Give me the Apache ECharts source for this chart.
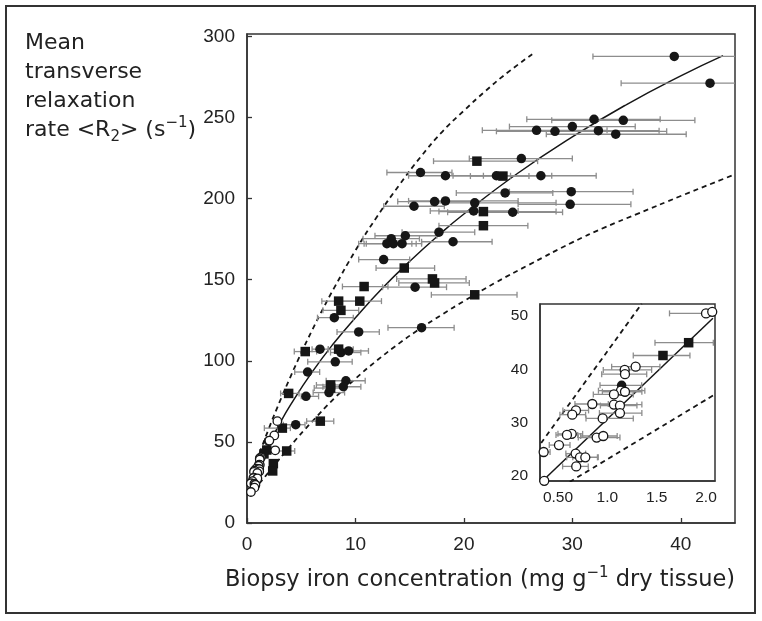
<!DOCTYPE html>
<html><head><meta charset="utf-8">
<script src="https://cdn.jsdelivr.net/npm/echarts@6/dist/echarts.min.js"></script>
<style>html,body{margin:0;padding:0;background:#fff}#c{width:762px;height:621px}</style>
</head><body><div id="c"></div>
<script>
// ---------- tick labels ----------
const xTicks = [0, 10, 20, 30, 40];
const yTicks = [0, 50, 100, 150, 200, 250, 300];
const insetXTicks = [0.5, 1.0, 1.5, 2.0];
const insetXLabels = ['0.50', '1.0', '1.5', '2.0'];
const insetYTicks = [20, 30, 40, 50];

// ---------- data: [iron, R2, ironLow, ironHigh] ----------
const mainFilledCircles = [
  [39.4, 287.7, 31.9, 47], [42.7, 271.2, 34.5, 50], [32.0, 248.9, 25.8, 38.1], [34.7, 248.3, 28.1, 41.3],
  [30.0, 244.4, 24.2, 35.8], [26.7, 242.1, 21.7, 33.2], [28.4, 241.5, 23.0, 38.7], [32.4, 241.9, 26.5, 38.0],
  [34.0, 239.7, 27.6, 40.5], [25.3, 224.7, 20.5, 30.0], [16.0, 216.1, 12.9, 18.9], [18.3, 214.1, 14.9, 21.8],
  [23.0, 214.1, 19.0, 28.1], [27.1, 214.1, 24.3, 32.2], [23.8, 203.5, 19.3, 28.2], [29.9, 204.3, 24.2, 35.6],
  [17.3, 198.2, 13.9, 20.9], [18.3, 198.6, 14.9, 25.0], [21.0, 197.4, 17.0, 28.5], [15.4, 195.3, 12.6, 18.2],
  [29.8, 196.5, 25.0, 35.4], [20.9, 192.4, 16.9, 25.0], [24.5, 191.6, 18.5, 29.1], [17.7, 179.3, 14.3, 21.0],
  [13.3, 175.3, 10.7, 15.9], [14.6, 177.1, 11.8, 17.5], [12.9, 172.2, 10.3, 15.2], [13.5, 172.2, 10.8, 15.6],
  [14.3, 172.2, 11.0, 16.1], [19.0, 173.4, 16.1, 22.6], [12.6, 162.4, 10.3, 15.0], [15.5, 145.4, 12.5, 18.4],
  [8.05, 126.6, 6.5, 9.8], [16.1, 120.4, 13.0, 19.1], [10.3, 117.8, 8.3, 12.2], [6.73, 107.2, 6.0, 7.5],
  [8.66, 105.1, 7.7, 10.5], [9.37, 106.1, 8.3, 11.2], [8.14, 99.4, 5.6, 9.7], [5.59, 93.1, 4.4, 6.7],
  [9.12, 87.7, 7.3, 10.9], [8.88, 84.0, 7.0, 10.5], [7.56, 80.4, 6.1, 9.0], [5.44, 78.1, 5.0, 6.6],
  [4.49, 60.6, 3.35, 5.35]
];
const mainSquares = [
  [21.2, 223.1, 17.2, 26.8], [23.6, 213.9, 20.6, 26.0], [21.8, 192.0, 17.7, 28.5], [21.8, 183.3, 17.7, 25.9],
  [14.5, 157.2, 11.9, 17.3], [17.1, 150.5, 13.8, 20.2], [17.3, 148.0, 14.0, 20.5], [10.8, 145.8, 8.8, 13.0],
  [21.0, 140.7, 17.0, 24.9], [8.45, 136.8, 6.9, 10.1], [10.4, 136.8, 8.6, 12.4], [8.66, 131.1, 7.0, 10.3],
  [5.37, 105.7, 4.36, 6.42], [8.45, 107.2, 7.5, 9.8], [7.71, 85.1, 6.4, 9.2], [7.71, 83.2, 6.2, 9.1],
  [3.84, 79.9, 3.1, 4.8], [6.76, 62.8, 5.5, 8.0], [3.26, 58.5, 1.6, 4.0], [3.66, 44.4, 2.8, 4.4],
  [2.43, 36.6, 2.1, 2.8], [2.37, 32.1, 2.1, 2.7]
];
const mainOpenCircles = [
  [2.52, 54.0, 2.52, 2.52], [2.6, 44.8, 2.6, 2.6], [2.8, 62.8, 2.8, 2.8]
];
const insetOpenCircles = [
  [2.0, 50.5, 1.63, 2.3], [2.063, 50.8, 2.063, 2.063], [1.287, 40.5, 1.044, 1.533], [1.176, 39.9, 0.959, 1.449],
  [1.179, 39.1, 0.943, 1.399], [1.138, 36.0, 0.91, 1.38], [1.179, 35.8, 0.95, 1.35], [1.067, 35.3, 0.858, 1.263],
  [0.848, 33.5, 0.672, 1.01], [1.067, 33.4, 0.82, 1.35], [1.128, 33.2, 0.93, 1.30], [1.128, 31.8, 0.92, 1.35],
  [0.682, 32.3, 0.55, 0.81], [0.645, 31.5, 0.52, 0.78], [0.953, 30.8, 0.784, 1.263], [0.639, 27.9, 0.5, 0.75],
  [0.591, 27.7, 0.48, 0.70], [0.892, 27.2, 0.706, 1.128], [0.959, 27.5, 0.73, 1.10], [0.51, 25.8, 0.412, 0.622],
  [0.355, 24.5, 0.30, 0.42], [0.679, 24.2, 0.58, 0.78], [0.723, 23.5, 0.588, 0.908], [0.777, 23.5, 0.65, 0.90],
  [0.685, 21.8, 0.547, 0.807], [0.361, 19.1, 0.30, 0.40]
];
const insetSquares = [[1.824, 45.0, 1.483, 2.074], [1.564, 42.6, 1.263, 1.837]];
const insetFilledCircles = [[1.145, 37.0, 0.926, 1.348]];

// ---------- curves ----------
const fitX = [0.3, 0.5, 1, 2, 3, 4, 6, 8, 10, 12.5, 15, 17.5, 20, 25, 30, 35, 40, 43.9];
const fitY = [18.5, 22.7, 32.5, 48.1, 61.1, 72.7, 93.0, 110.8, 126.6, 144.9, 161.3, 176.5, 190.5, 215.8, 238.1, 258.0, 275.7, 288.2];
const upperX = [0.1, 1, 2, 3, 4, 5, 6, 7, 8, 10, 12, 14, 16, 18, 20, 22, 24, 26.3];
const upperY = [22, 40, 58, 74.5, 90, 104.8, 118.8, 132, 144.5, 168, 189, 208, 225.6, 241.2, 254.2, 266.4, 277.6, 289];
const lowerX = [0.6, 2, 4, 6, 8, 10, 12, 14, 16, 18, 20, 23, 26, 30, 33, 36, 40, 45];
const lowerY = [20, 31.3, 47.5, 62.5, 76.5, 89, 100.3, 110.6, 120, 128.6, 136.8, 148.5, 159.2, 173, 182.3, 190.6, 201.6, 215];
const insetFitX = [0.351, 2.07];
const insetFitY = [19.2, 49.6];
const insetUpperX = [0.33, 1.348];
const insetUpperY = [26.2, 52.3];
const insetLowerX = [0.62, 2.09];
const insetLowerY = [18.9, 35.3];

const zip = (xs, ys) => xs.map((x, i) => [x, ys[i]]);
const INK = '#161616', BAR = '#8d8d8d', AXIS = '#333';
const FONT = 'Liberation Sans, Arial, sans-serif';
const TFONT = 'DejaVu Sans, sans-serif';

function errSeries(data, ai, cap, z) {
  return {
    type: 'custom', xAxisIndex: ai, yAxisIndex: ai, clip: true, silent: true, z: z,
    data: data, encode: { x: 0, y: 1 },
    renderItem: function (params, api) {
      const y = api.value(1), lo = api.value(2), hi = api.value(3);
      if (!(hi > lo)) return null;
      const a = api.coord([lo, y]), b = api.coord([hi, y]);
      const st = { stroke: BAR, lineWidth: 1.3 };
      return { type: 'group', children: [
        { type: 'line', shape: { x1: a[0], y1: a[1], x2: b[0], y2: b[1] }, style: st },
        { type: 'line', shape: { x1: a[0], y1: a[1] - cap, x2: a[0], y2: a[1] + cap }, style: st },
        { type: 'line', shape: { x1: b[0], y1: b[1] - cap, x2: b[0], y2: b[1] + cap }, style: st }
      ]};
    }
  };
}
function pts(data, ai, symbol, size, open, z) {
  return {
    type: 'scatter', xAxisIndex: ai, yAxisIndex: ai, symbol: symbol, symbolSize: size, z: z, silent: true,
    data: data.map(d => [d[0], d[1]]),
    itemStyle: open ? { color: '#fff', borderColor: INK, borderWidth: 1.3, opacity: 1 } : { color: INK, opacity: 1 }
  };
}
function curve(xs, ys, ai, dashed, z) {
  return {
    type: 'line', xAxisIndex: ai, yAxisIndex: ai, data: zip(xs, ys), smooth: true, showSymbol: false,
    symbol: 'none', silent: true, z: z, clip: true,
    lineStyle: { color: INK, width: dashed ? 1.8 : 1.5, type: dashed ? [5, 4] : 'solid' }
  };
}

const allCircles = mainFilledCircles.concat(insetFilledCircles);
const allSquares = mainSquares.concat(insetSquares);
const allOpen = mainOpenCircles.concat(insetOpenCircles);

const chart = echarts.init(document.getElementById('c'), null, { renderer: 'canvas' });
chart.setOption({
  animation: false,
  backgroundColor: '#fff',
  textStyle: { fontFamily: FONT },
  grid: [
    { left: 247, top: 34, right: 27, bottom: 98, show: true, borderColor: AXIS, borderWidth: 1.5, backgroundColor: 'transparent', z: 0 },
    { left: 540, top: 304, width: 175, height: 177, show: true, borderColor: AXIS, borderWidth: 1.5, backgroundColor: '#fff', z: 20 }
  ],
  xAxis: [
    { type: 'value', gridIndex: 0, min: 0, max: 45, splitLine: { show: false },
      axisLine: { lineStyle: { color: AXIS, width: 1.5 } },
      axisTick: { inside: true, length: 5, customValues: xTicks, lineStyle: { color: AXIS, width: 1.3 } },
      axisLabel: { customValues: xTicks, color: '#222', fontSize: 19, margin: 12, fontFamily: FONT } },
    { type: 'value', gridIndex: 1, min: 0.318, max: 2.091, splitLine: { show: false }, z: 21,
      axisLine: { lineStyle: { color: AXIS, width: 1.5 } },
      axisTick: { show: false },
      axisLabel: { customValues: insetXTicks, color: '#222', fontSize: 15.5, margin: 9, fontFamily: FONT,
        formatter: v => insetXLabels[insetXTicks.findIndex(t => Math.abs(t - v) < 1e-6)] } }
  ],
  yAxis: [
    { type: 'value', gridIndex: 0, min: 0, max: 301.5, splitLine: { show: false },
      axisLine: { lineStyle: { color: AXIS, width: 1.5 } },
      axisTick: { inside: true, length: 5, customValues: yTicks, lineStyle: { color: AXIS, width: 1.3 } },
      axisLabel: { customValues: yTicks, color: '#222', fontSize: 19, margin: 12, fontFamily: FONT } },
    { type: 'value', gridIndex: 1, min: 19.06, max: 52.26, splitLine: { show: false }, z: 21,
      axisLine: { lineStyle: { color: AXIS, width: 1.5 } },
      axisTick: { show: false },
      axisLabel: { customValues: insetYTicks, color: '#222', fontSize: 15.5, margin: 12, fontFamily: FONT } }
  ],
  series: [
    curve(upperX, upperY, 0, true, 2),
    curve(lowerX, lowerY, 0, true, 2),
    curve(fitX, fitY, 0, false, 2),
    errSeries(allCircles.concat(allSquares, allOpen), 0, 3, 3),
    pts(allCircles, 0, 'circle', 9.5, false, 4),
    pts(allSquares, 0, 'rect', 9.5, false, 4),
    pts(allOpen, 0, 'circle', 8.5, true, 5),

    curve(insetUpperX, insetUpperY, 1, true, 22),
    curve(insetLowerX, insetLowerY, 1, true, 22),
    curve(insetFitX, insetFitY, 1, false, 22),
    errSeries(insetFilledCircles.concat(insetSquares, insetOpenCircles), 1, 3, 23),
    pts(insetFilledCircles, 1, 'circle', 9.5, false, 24),
    pts(insetSquares, 1, 'rect', 9.5, false, 24),
    pts(insetOpenCircles, 1, 'circle', 9, true, 25)
  ],
  graphic: [
    { type: 'rect', silent: true, z: -1, shape: { x: 6, y: 6, width: 749, height: 607 },
      style: { fill: 'none', stroke: '#333', lineWidth: 2 } },
    { type: 'text', left: 25, top: 29, silent: true, z: 30,
      style: { text: 'Mean\ntransverse\nrelaxation\nrate <R{sub|2}> (s{sup|\u22121})',
        font: '22px ' + TFONT, fill: '#222', lineHeight: 29,
        rich: {
          sub: { fontSize: 15, fontFamily: TFONT, fill: '#222', verticalAlign: 'bottom', lineHeight: 13 },
          sup: { fontSize: 15, fontFamily: TFONT, fill: '#222', verticalAlign: 'top', lineHeight: 14 }
        } } },
    { type: 'text', x: 480, y: 580, silent: true, z: 30,
      style: { text: 'Biopsy iron concentration (mg g{sup|\u22121} dry tissue)',
        font: '22.5px ' + TFONT, fill: '#222', align: 'center', verticalAlign: 'middle', lineHeight: 29,
        rich: {
          sup: { fontSize: 15, fontFamily: TFONT, fill: '#222', verticalAlign: 'top', lineHeight: 14 }
        } } }
  ]
});
</script></body></html>
